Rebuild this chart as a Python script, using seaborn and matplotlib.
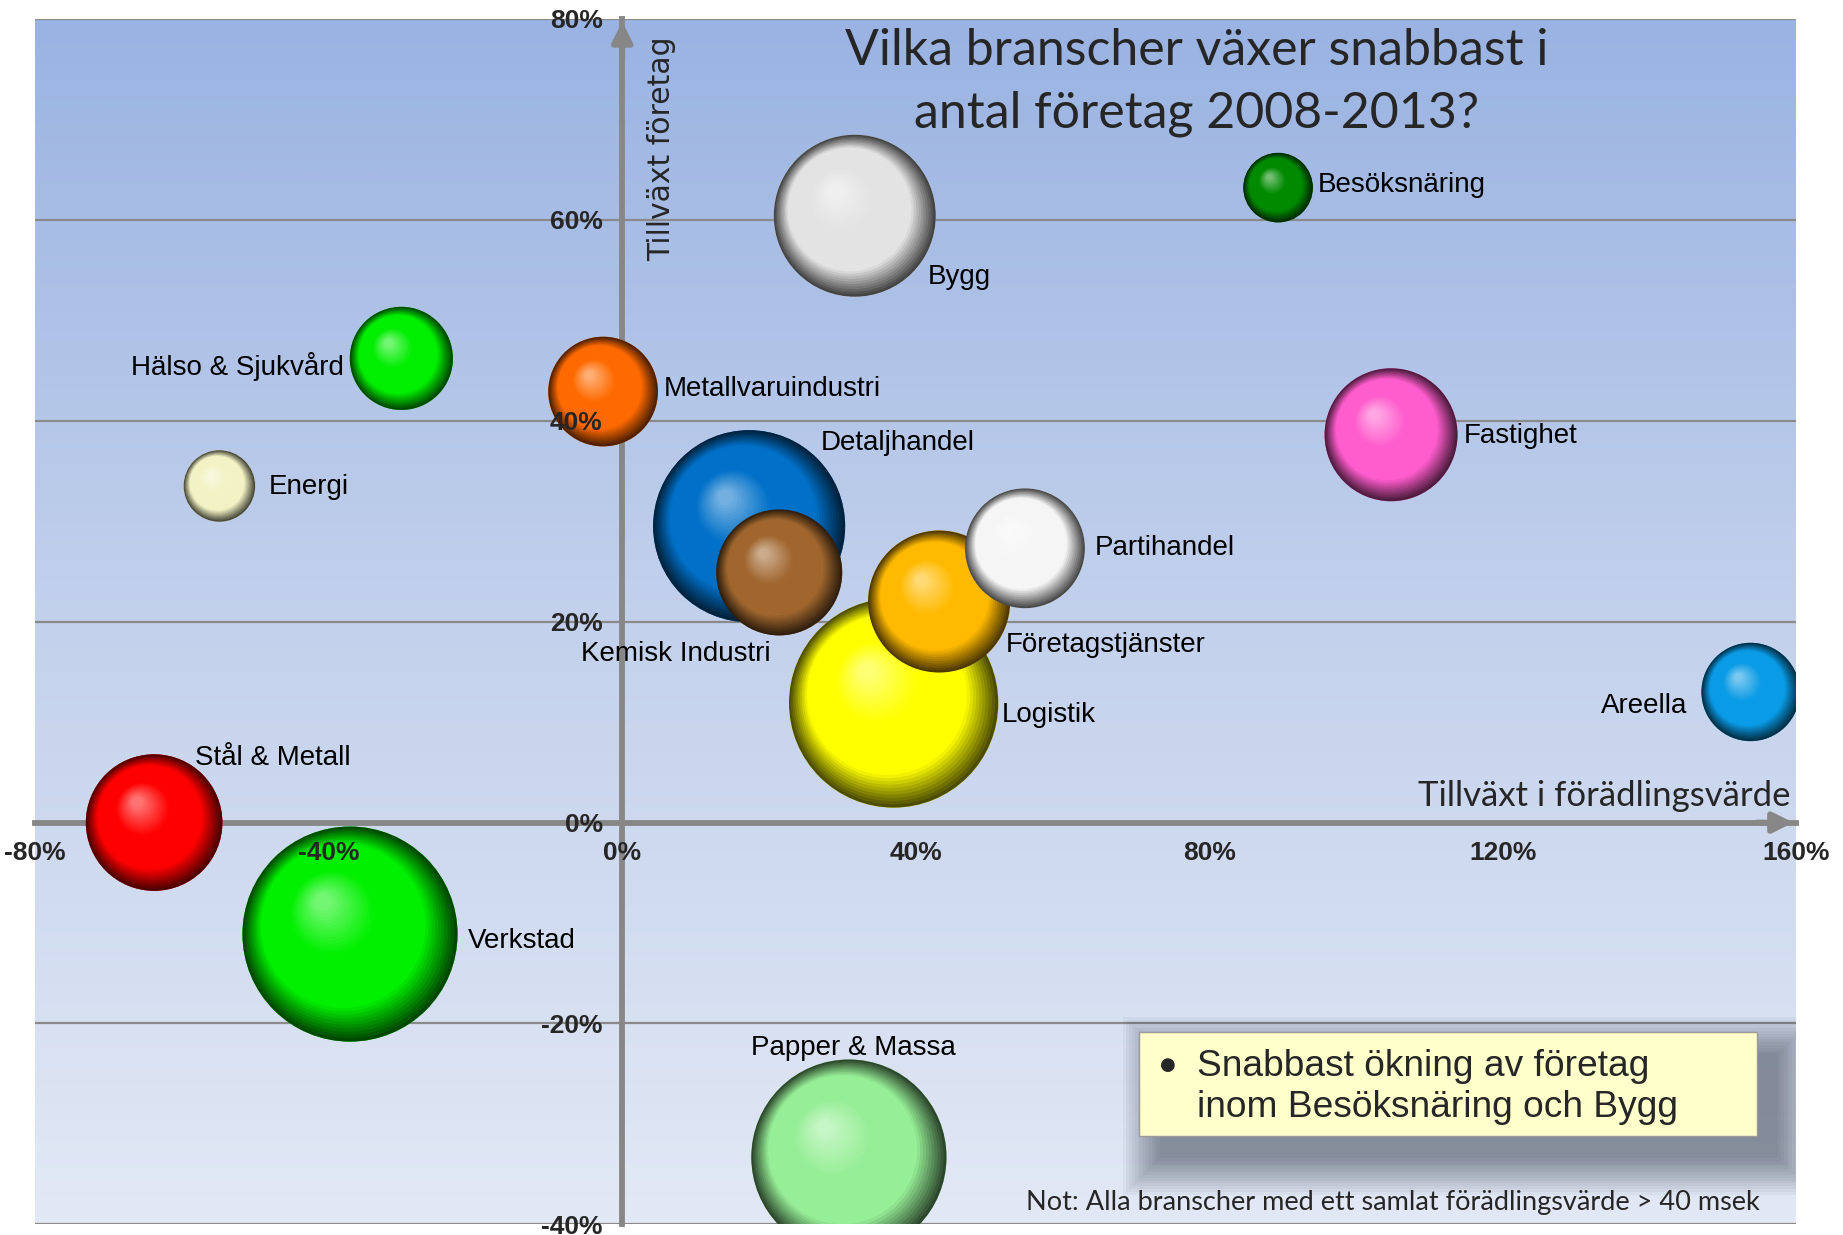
import matplotlib
matplotlib.use("Agg")
import matplotlib.pyplot as plt
import matplotlib.transforms as mtransforms
from matplotlib.patches import Rectangle
import matplotlib.colors as mcolors
import seaborn as sns
import pandas as pd
import numpy as np

# Data
branscher = ["Stål & Metall", "Verkstad", "Hälso & Sjukvård", "Energi", "Metallvaruindustri",
             "Bygg", "Besöksnäring", "Fastighet", "Detaljhandel", "Kemisk Industri",
             "Logistik", "Företagstjänster", "Partihandel", "Areella", "Papper & Massa"]
tillvaxt_foradling = [-63.8, -37.1, -30.1, -54.9, -2.6, 31.7, 89.4, 104.8, 17.3, 21.4,
                      37.0, 43.2, 54.9, 153.8, 30.9]
tillvaxt_foretag = [0.0, -11.1, 46.2, 33.5, 42.9, 60.4, 63.2, 38.6, 29.5, 24.9,
                    11.9, 22.0, 27.3, 13.0, -33.3]
storlek = [135, 335, 77, 37, 87, 190, 35, 128, 267, 115, 317, 146, 104, 70, 276]

farger = ["#FF0000", "#00F000", "#00EE00", "#F2F2C4", "#FF6A00",
          "#E3E3E3", "#008A00", "#FF5CCD", "#0070C8", "#A0662E",
          "#FFFF00", "#FFBA00", "#F5F5F5", "#0A9BE6", "#96EE96"]

x_ticks = [-80, -40, 0, 40, 80, 120, 160]
y_ticks = [-40, -20, 0, 20, 40, 60, 80]

df = pd.DataFrame({"bransch": branscher, "x": tillvaxt_foradling,
                   "y": tillvaxt_foretag, "storlek": storlek})

# Etikettplacering (offset i punkter, justering)
etiketter = {
    "Stål & Metall": (29.6, 46.5, "left"),
    "Verkstad": (84.6, -5.1, "left"),
    "Hälso & Sjukvård": (-41.5, -5.9, "right"),
    "Energi": (35.5, -0.8, "left"),
    "Metallvaruindustri": (44, 1.7, "left"),
    "Bygg": (52.5, -44, "left"),
    "Besöksnäring": (28.8, 1.7, "left"),
    "Fastighet": (52.5, -0.8, "left"),
    "Detaljhandel": (51.6, 60.1, "left"),
    "Kemisk Industri": (-74.5, -58.4, "center"),
    "Logistik": (77.9, -8.5, "left"),
    "Företagstjänster": (48.2, -31.3, "left"),
    "Partihandel": (49.9, 0, "left"),
    "Areella": (-45.7, -10.2, "right"),
    "Papper & Massa": (3.4, 78.7, "center"),
}

sns.set_style("white")
plt.rcParams["font.family"] = ["Liberation Sans", "DejaVu Sans"]

fig = plt.figure(figsize=(18.43, 12.35), dpi=100, facecolor="white")
ax = fig.add_axes([0.01913, 0.00856, 0.9554, 0.9762])

# bakgrund med gradient (mörkare blå upptill)
grad = np.linspace(0, 1, 256).reshape(-1, 1)
cmap_bg = mcolors.LinearSegmentedColormap.from_list("bg", ["#9AB3E2", "#C3D1EC", "#E2E8F5"])
ax.imshow(grad, extent=[-80, 160, -40, 80], origin="upper", aspect="auto", cmap=cmap_bg,
          zorder=0, interpolation="bilinear")
ax.set_xlim(-80, 160)
ax.set_ylim(-40, 80)

# horisontella rutnätslinjer
for yt in y_ticks:
    ax.axhline(yt, color="#8A8A8A", lw=1.6, zorder=0.5)

# bubblor via seaborn (storlek proportionell mot area)
smax = max(storlek) * 71.6
sns.scatterplot(data=df, x="x", y="y", hue="bransch", palette=dict(zip(branscher, farger)),
                size="storlek", sizes=(0, smax), size_norm=(0, max(storlek)),
                legend=False, ax=ax, edgecolor="none", zorder=2.6)
coll = ax.collections[-1]
sizes = coll.get_sizes()


def mix(a, b, t):
    return tuple((1 - t) * np.array(a) + t * np.array(b))


# sfärisk skuggning ovanpå
N = 40
hx, hy = -0.25, 0.30
for i, (xv, yv, col) in enumerate(zip(df["x"], df["y"], farger)):
    base = mcolors.to_rgb(col)
    dark = tuple(np.array(base) * 0.3)
    light = mix(base, (1, 1, 1), 0.45)
    r_pt = np.sqrt(sizes[i]) / 2
    for k in range(N):
        f = k / (N - 1)
        if f < 0.25:
            c = mix(dark, base, f / 0.25)
        elif f < 0.65:
            c = base
        else:
            c = mix(base, light, (f - 0.65) / 0.35)
        rf = 1 - 0.92 * f
        tr = mtransforms.offset_copy(ax.transData, fig=fig, x=f * hx * r_pt,
                                     y=f * hy * r_pt, units="points")
        ax.scatter([xv], [yv], s=(2 * r_pt * rf) ** 2, color=[c], edgecolors="none",
                   transform=tr, zorder=3 + i + k * 0.001)

# etiketter
for _, row in df.iterrows():
    dx, dy, ha = etiketter[row["bransch"]]
    ax.annotate(row["bransch"], (row["x"], row["y"]), xytext=(dx, dy),
                textcoords="offset points", ha=ha, va="center", fontsize=20,
                color="black", zorder=40)

# axlar genom origo
for s in ["top", "right"]:
    ax.spines[s].set_visible(False)
ax.spines["left"].set_position(("data", 0))
ax.spines["bottom"].set_position(("data", 0))
for s in ["left", "bottom"]:
    ax.spines[s].set_color("#878787")
    ax.spines[s].set_linewidth(4.2)
    ax.spines[s].set_zorder(2.5)

ax.set_xticks(x_ticks)
ax.set_yticks(y_ticks)
ax.set_xticklabels([f"{v}%" for v in x_ticks])
ax.set_yticklabels([f"{v}%" for v in y_ticks])
ax.tick_params(axis="both", length=4, width=3, color="#878787", labelsize=19)
ax.tick_params(axis="x", pad=9)
ax.tick_params(axis="y", pad=10)
for lab in ax.get_xticklabels() + ax.get_yticklabels():
    lab.set_fontfamily(["Liberation Sans Narrow", "Liberation Sans"])
    lab.set_fontweight("bold")
ax.xaxis.set_zorder(50)
ax.yaxis.set_zorder(50)
ax.set_xlabel("")
ax.set_ylabel("")

# pilar på axlarna
ax.annotate("", xy=(1, 0), xycoords=("axes fraction", "data"), xytext=(-30, 0),
            textcoords="offset points",
            arrowprops=dict(arrowstyle="-|>", color="#878787", lw=4.2, mutation_scale=30),
            zorder=2.5)
ax.annotate("", xy=(0, 1), xycoords=("data", "axes fraction"), xytext=(0, -30),
            textcoords="offset points",
            arrowprops=dict(arrowstyle="-|>", color="#878787", lw=4.2, mutation_scale=30),
            zorder=2.5)

# axeltitlar och rubrik
ax.text(0.3555, 0.892, "Tillväxt företag", transform=ax.transAxes, rotation=90,
        ha="center", va="center", fontsize=21.5, family="DejaVu Sans", zorder=40)
ax.text(0.9967, 0.355, "Tillväxt i förädlingsvärde", transform=ax.transAxes,
        ha="right", va="center", fontsize=25, family="Lato", zorder=40)
ax.text(0.6596, 0.947, "Vilka branscher växer snabbast i\nantal företag 2008-2013?",
        transform=ax.transAxes, ha="center", va="center", fontsize=36, family="Lato",
        linespacing=1.45, zorder=40)

# textruta med skugga
bx, by, bw, bh = 0.6268, 0.0731, 0.3510, 0.0867
for j in range(14):
    p = j * 0.0016
    ax.add_patch(Rectangle((bx + 0.012 - p, by - 0.018 - p * 1.46), bw + 2 * p, bh + 2 * p * 1.46,
                           transform=ax.transAxes, facecolor="#2A3040", alpha=0.045,
                           edgecolor="none", zorder=59))
ax.add_patch(Rectangle((bx, by), bw, bh, transform=ax.transAxes, facecolor="#FFFFCC",
                       edgecolor="#9A9A9A", lw=1.0, zorder=60))
ax.text(0.643, 0.1326, "●", transform=ax.transAxes, ha="center", va="center",
        fontsize=13, family="DejaVu Sans", zorder=61)
ax.text(0.6595, 0.114, "Snabbast ökning av företag\ninom Besöksnäring och Bygg",
        transform=ax.transAxes, ha="left", va="center", fontsize=26.7, linespacing=1.2,
        zorder=61)

ax.text(0.771, 0.0185, "Not: Alla branscher med ett samlat förädlingsvärde > 40 msek",
        transform=ax.transAxes, ha="center", va="center", fontsize=19.5, family="Lato",
        zorder=40)

fig.savefig("out.png", dpi=100, facecolor="white")
